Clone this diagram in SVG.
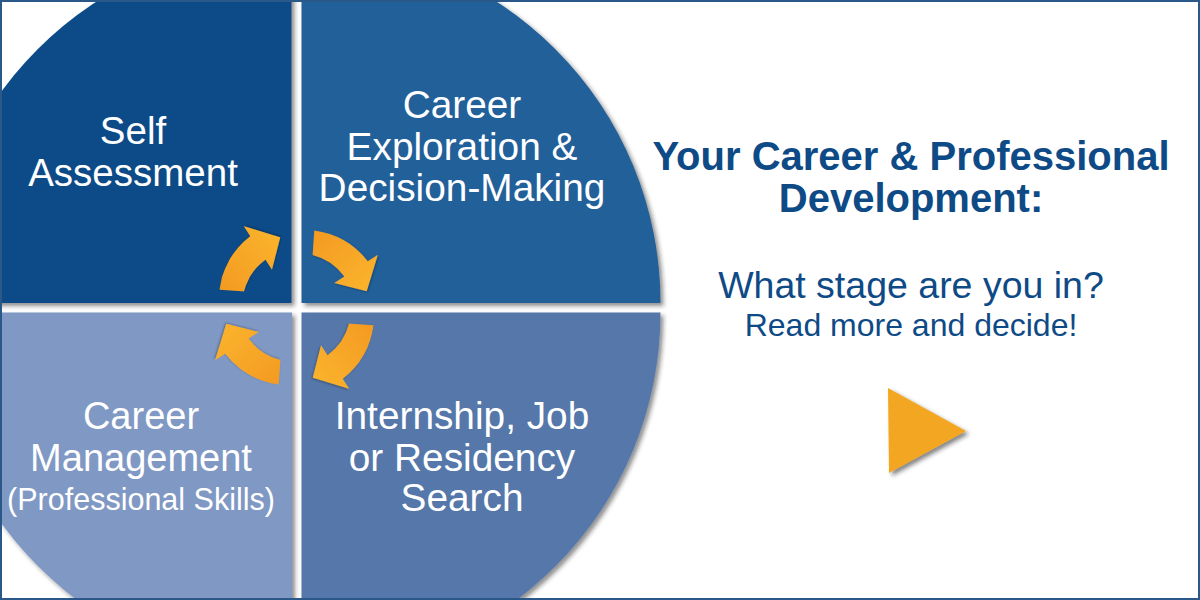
<svg xmlns="http://www.w3.org/2000/svg" width="1200" height="600" viewBox="0 0 1200 600">
<defs>
<style>
.q{filter:url(#sh)}
.wt{fill:#ffffff;font-family:"Liberation Sans",Arial,sans-serif;text-anchor:middle}
.rt{fill:#0e4a86;font-family:"Liberation Sans",Arial,sans-serif;text-anchor:middle}
.arr{fill:url(#og);filter:url(#ash)}
</style>
<filter id="sh" x="-10%" y="-10%" width="120%" height="120%">
<feDropShadow dx="3" dy="3" stdDeviation="2" flood-color="#222" flood-opacity="0.5"/>
</filter>
<filter id="ash" x="-20%" y="-20%" width="140%" height="140%">
<feDropShadow dx="1" dy="1" stdDeviation="1" flood-color="#000" flood-opacity="0.3"/>
</filter>
<filter id="tsh" x="-20%" y="-20%" width="140%" height="140%">
<feDropShadow dx="3" dy="3" stdDeviation="2" flood-color="#222" flood-opacity="0.55"/>
</filter>
<linearGradient id="og" x1="0" y1="0" x2="1" y2="1">
<stop offset="0" stop-color="#f39a22"/>
<stop offset="1" stop-color="#fbb52e"/>
</linearGradient>
<path id="arrow" d="M314.3,230.5 A82,82 0 0 1 367.8,261.2 L377.9,254.7 L366.7,291.3 L334.2,283 L344.3,276.5 A56,56 0 0 0 312.6,254.9 Z"/>
</defs>
<rect x="0" y="0" width="1200" height="600" fill="#ffffff"/>
<g id="self-assessment">
<path class="q" d="M291.5,303 L291.5,-56 A359,359 0 0 0 -67.5,303 Z" fill="#0f4c88"/>
<text class="wt" x="133" y="144" font-size="38.5">Self</text>
<text class="wt" x="133" y="186" font-size="38.5">Assessment</text>
</g>
<g id="career-exploration">
<path class="q" d="M301.5,303 L301.5,-56 A359,359 0 0 1 660.5,303 Z" fill="#21609a"/>
<text class="wt" x="462" y="118" font-size="38.8">Career</text>
<text class="wt" x="462" y="160" font-size="38.8">Exploration &amp;</text>
<text class="wt" x="462" y="201" font-size="38.8">Decision-Making</text>
</g>
<g id="internship-search">
<path class="q" d="M301.5,312.5 L660.5,312.5 A359,359 0 0 1 301.5,671.5 Z" fill="#5577a9"/>
<text class="wt" x="462" y="429" font-size="38.8">Internship, Job</text>
<text class="wt" x="462" y="471" font-size="38.8">or Residency</text>
<text class="wt" x="462" y="511" font-size="38.8">Search</text>
</g>
<g id="career-management">
<path class="q" d="M292,312.5 L292,671.5 A359,359 0 0 1 -67,312.5 Z" fill="#7f98c4"/>
<text class="wt" x="141" y="429" font-size="38">Career</text>
<text class="wt" x="141" y="471" font-size="38">Management</text>
<text class="wt" x="141" y="510" font-size="30.5">(Professional Skills)</text>
</g>
<g id="connectors">
<use href="#arrow" class="arr"/>
<use href="#arrow" class="arr" transform="rotate(90 296.5 307.5)"/>
<use href="#arrow" class="arr" transform="rotate(180 296.5 307.5)"/>
<use href="#arrow" class="arr" transform="rotate(270 296.5 307.5)"/>
</g>
<g id="title">
<text class="rt" x="911" y="170" font-size="40" font-weight="bold">Your Career &amp; Professional</text>
<text class="rt" x="911" y="212" font-size="40" font-weight="bold">Development:</text>
<text class="rt" x="911" y="298" font-size="37.5" fill="#1a4f8a">What stage are you in?</text>
<text class="rt" x="911" y="336" font-size="32">Read more and decide!</text>
</g>
<g id="play-button">
<polygon points="888,388 966,431 889,473" fill="#f3a623" filter="url(#tsh)"/>
</g>
<rect x="1" y="1" width="1198" height="598" fill="none" stroke="#2a5888" stroke-width="2"/>
</svg>
